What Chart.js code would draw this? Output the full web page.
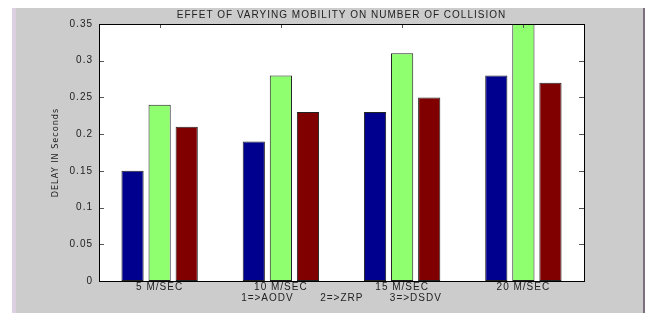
<!DOCTYPE html>
<html lang="en">
<head>
    <meta charset="utf-8" />
    <title>Effet of varying mobility</title>
    <script src="https://cdn.jsdelivr.net/npm/chart.js@4.4.1/dist/chart.umd.min.js"></script>
    <style>
        html, body { margin: 0; padding: 0; background: #fff; }
        #wrap { width: 650px; height: 313px; position: relative; }
    </style>
</head>

<body>
    <div id="wrap"><canvas id="delayChart" width="650" height="313"></canvas></div>
    <script>
        const categories = ['5 M/SEC', '10 M/SEC', '15 M/SEC', '20 M/SEC'];
        const aodv = [0.15, 0.19, 0.23, 0.28];
        const zrp = [0.24, 0.28, 0.31, 0.35];
        const dsdv = [0.21, 0.23, 0.25, 0.27];
        const yTicks = [0, 0.05, 0.1, 0.15, 0.2, 0.25, 0.3, 0.35];

        const font = 'Liberation Sans, Arial, sans-serif';

        // gray figure window, white axes box and inward matlab style ticks
        const matlabFrame = {
            id: 'matlabFrame',
            beforeDraw(chart) {
                const c = chart.ctx;
                const a = chart.chartArea;
                c.letterSpacing = '1px';
                c.save();
                c.fillStyle = '#cccccc';
                c.fillRect(12, 8, 631, 305);
                c.fillStyle = '#ddd0e0';
                c.fillRect(12, 8, 4, 305);
                c.fillStyle = '#7a6f7a';
                c.fillRect(643, 8, 2, 305);
                c.fillStyle = '#ffffff';
                c.fillRect(a.left, a.top, a.right - a.left, a.bottom - a.top);
                c.restore();
            },
            afterDraw(chart) {
                const c = chart.ctx;
                const a = chart.chartArea;
                const x = chart.scales.x;
                const y = chart.scales.y;
                c.save();
                c.strokeStyle = '#555555';
                c.lineWidth = 1;
                c.beginPath();
                yTicks.forEach(function (v) {
                    if (v === 0 || v === 0.35) return;
                    const py = Math.round(y.getPixelForValue(v)) + 0.5;
                    c.moveTo(a.left, py); c.lineTo(a.left + 5, py);
                    c.moveTo(a.right, py); c.lineTo(a.right - 5, py);
                });
                categories.forEach(function (cat, i) {
                    const px = Math.round(x.getPixelForValue(i)) + 0.5;
                    c.moveTo(px, a.top); c.lineTo(px, a.top + 4);
                });
                c.stroke();
                c.strokeStyle = '#000000';
                c.strokeRect(Math.round(a.left) + 0.5, Math.round(a.top) + 0.5,
                    Math.round(a.right - a.left), Math.round(a.bottom - a.top));
                c.restore();
            }
        };

        const ctx = document.getElementById('delayChart').getContext('2d');
        new Chart(ctx, {
            type: 'bar',
            data: {
                labels: categories,
                datasets: [
                    { label: 'AODV', data: aodv, backgroundColor: '#00008f' },
                    { label: 'ZRP', data: zrp, backgroundColor: '#8fff70' },
                    { label: 'DSDV', data: dsdv, backgroundColor: '#800000' }
                ]
            },
            options: {
                responsive: false,
                animation: false,
                layout: { padding: { left: 50, top: 8, right: 66, bottom: 0 } },
                datasets: {
                    bar: {
                        categoryPercentage: 0.67,
                        barPercentage: 0.82,
                        borderColor: '#222222',
                        borderWidth: 1,
                        borderSkipped: false
                    }
                },
                plugins: {
                    legend: { display: false },
                    tooltip: { enabled: false },
                    title: {
                        display: true,
                        fullSize: false,
                        text: 'EFFET OF VARYING MOBILITY ON NUMBER OF COLLISION',
                        color: '#222222',
                        font: { family: font, size: 10, weight: 'normal', lineHeight: 1.2 },
                        padding: { top: 1, bottom: 3 }
                    }
                },
                scales: {
                    x: {
                        grid: { display: false, drawTicks: false },
                        border: { display: false },
                        ticks: { color: '#222222', padding: 0, font: { family: font, size: 10 } },
                        title: {
                            display: true,
                            text: '1=>AODV       2=>ZRP       3=>DSDV',
                            color: '#222222',
                            font: { family: font, size: 10 },
                            padding: { top: 0, bottom: 9 }
                        },
                        afterFit(scale) { scale.height = 32; }
                    },
                    y: {
                        min: 0,
                        max: 0.35,
                        grid: { display: false, drawTicks: false },
                        border: { display: false },
                        afterBuildTicks(scale) {
                            scale.ticks = yTicks.map(function (v) { return { value: v }; });
                        },
                        ticks: {
                            color: '#222222',
                            padding: 6,
                            font: { family: font, size: 10 },
                            callback: function (v) { return String(v); }
                        },
                        title: {
                            display: true,
                            text: 'DELAY IN Seconds',
                            color: '#222222',
                            font: { family: 'Liberation Sans Narrow, DejaVu Sans Condensed, Arial Narrow, sans-serif', size: 9 },
                            padding: { top: 0, bottom: 0 }
                        },
                        afterFit(scale) { scale.width = 49; }
                    }
                }
            },
            plugins: [matlabFrame]
        });
    </script>
</body>

</html>
